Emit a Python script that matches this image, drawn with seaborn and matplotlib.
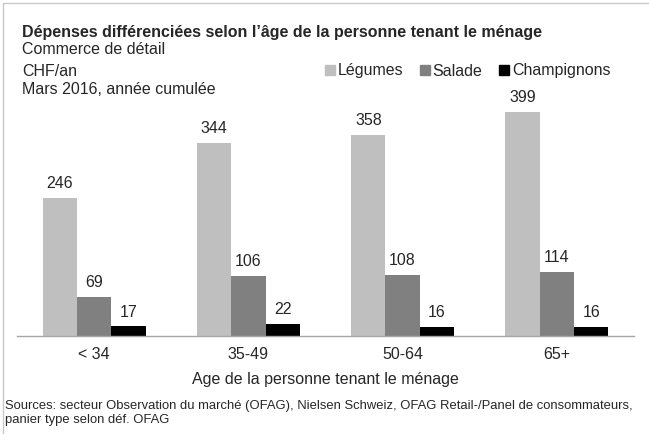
import pandas as pd
import matplotlib.pyplot as plt
import seaborn as sns
from matplotlib.lines import Line2D

# Données
groupes = ['< 34', '35-49', '50-64', '65+']
series = ['Légumes', 'Salade', 'Champignons']
legumes = [246, 344, 358, 399]
salade = [69, 106, 108, 114]
champignons = [17, 22, 16, 16]
couleurs = ['#bfbfbf', '#808080', '#000000']

df = pd.DataFrame({
    'Age': groupes * 3,
    'Produit': [s for s in series for _ in groupes],
    'CHF': legumes + salade + champignons,
})

sns.set_style('white')
plt.rcParams['font.family'] = ['Liberation Sans', 'DejaVu Sans']

fs = 11.5

fig = plt.figure(figsize=(6.49, 4.34), dpi=100)
ax = fig.add_axes([17 / 649, 98 / 434, 617 / 649, 236 / 434])

sns.barplot(data=df, x='Age', y='CHF', hue='Produit', order=groupes,
            hue_order=series, palette=couleurs, width=0.667, gap=0,
            saturation=1, linewidth=0, legend=False, ax=ax)

for cont in ax.containers:
    ax.bar_label(cont, padding=5, fontsize=fs)

ax.set_ylim(0, 420)
ax.set_xlim(-0.5, 3.5)
ax.set_yticks([])
ax.set_ylabel('')
ax.tick_params(axis='x', length=0, labelsize=fs, pad=8)
ax.set_xlabel('Age de la personne tenant le ménage', fontsize=fs, labelpad=7)
for s in ['left', 'top', 'right']:
    ax.spines[s].set_visible(False)
ax.spines['bottom'].set_color('#a6a6a6')
ax.spines['bottom'].set_linewidth(1)

# Titres
fig.text(22 / 649, 1 - 32 / 434, 'Dépenses différenciées selon l’âge de la personne tenant le ménage',
         fontsize=fs, fontweight='bold', va='center')
fig.text(22 / 649, 1 - 50 / 434, 'Commerce de détail', fontsize=fs, va='center')
fig.text(22 / 649, 1 - 71 / 434, 'CHF/an', fontsize=fs, va='center')
fig.text(22 / 649, 1 - 90 / 434, 'Mars 2016, année cumulée', fontsize=fs, va='center')

# Légende
handles = [Line2D([], [], marker='s', linestyle='', markersize=7, color=c) for c in couleurs]
fig.legend(handles, series, loc='center left', bbox_to_anchor=(316 / 649, 1 - 71 / 434),
           ncol=3, frameon=False, fontsize=fs, handlelength=0.7, handletextpad=0.15,
           columnspacing=1.0, borderpad=0)

# Sources
fig.text(5 / 649, 1 - 406 / 434,
         'Sources: secteur Observation du marché (OFAG), Nielsen Schweiz, OFAG Retail-/Panel de consommateurs,',
         fontsize=9.4, va='center')
fig.text(5 / 649, 1 - 420 / 434, 'panier type selon déf. OFAG', fontsize=9.4, va='center')

# Cadre
fig.add_artist(Line2D([3 / 649, 1], [1 - 3 / 434, 1 - 3 / 434], color='#c8c8c8', lw=1))
fig.add_artist(Line2D([3 / 649, 3 / 649], [0, 1 - 3 / 434], color='#c8c8c8', lw=1))

fig.savefig('out.png', dpi=100)
